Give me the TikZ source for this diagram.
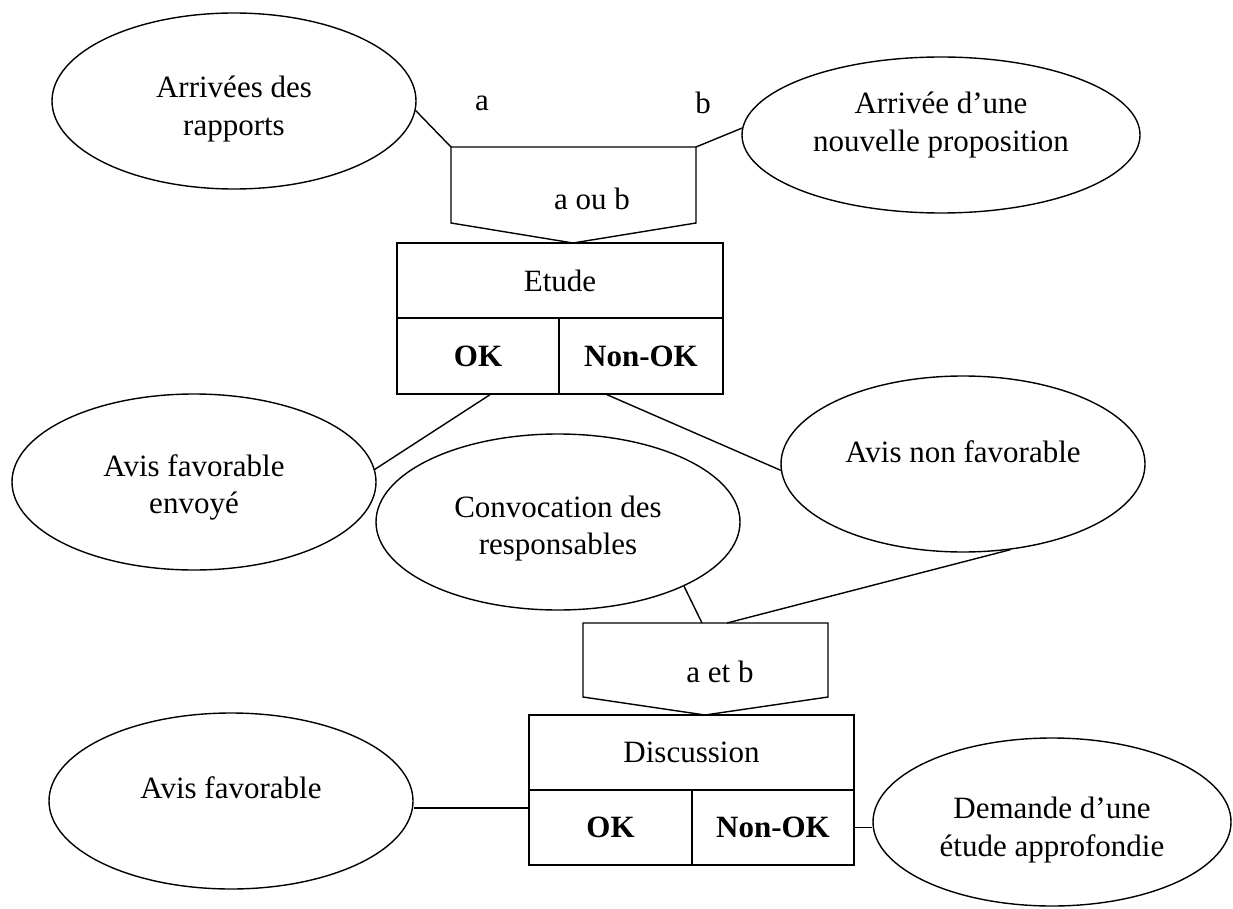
\documentclass[tikz,border=0pt]{standalone}
\usepackage{fontspec}
\setmainfont{Liberation Serif}
\usetikzlibrary{shapes.geometric,calc}
\begin{document}
\begin{tikzpicture}[x=1pt,y=-1pt,
  line width=1.4pt,
  every node/.style={font=\fontsize{31}{37.5}\selectfont},
  ev/.style={ellipse,draw,minimum width=364pt,minimum height=176pt,inner sep=0pt,align=center},
  lift/.style={text depth=#1},
  drop/.style={text height=#1},
  cell/.style={rectangle,draw,inner sep=0pt,minimum height=75pt},
  okcell/.style={cell,font=\fontsize{31}{37}\selectfont\bfseries}]
\useasboundingbox (0,0) rectangle (1233,909);

% events feeding the study
\node[ev,drop=75pt] (e1) at (234,101) {Arrivées des\\rapports};
\node[ev,minimum width=398pt,minimum height=156pt,lift=27pt] (e2) at (941,135) {Arrivée d’une\\nouvelle proposition};
\node (la) at (482,103) {a};
\node (lb) at (703,103) {b};

% synchronisation "a ou b"
\coordinate (p1tl) at (451,147);
\coordinate (p1tr) at (696,147);
\coordinate (p1br) at (696,223);
\coordinate (p1tip) at (573,243);
\coordinate (p1bl) at (451,223);
\draw (p1tl) -- (p1tr) -- (p1br) -- (p1tip) -- (p1bl) -- cycle;
\node (p1txt) at (592,199) {a ou b};

% operation Etude
\node[cell,minimum width=326pt] (etude) at (560,280.5) {Etude};
\node[okcell,minimum width=162pt,minimum height=76pt] (ok1) at (478,356) {OK};
\node[okcell,minimum width=164pt,minimum height=76pt] (nok1) at (641,356) {Non-OK};

% results of the study
\node[ev,drop=70pt] (e3) at (194,482) {Avis favorable\\envoyé};
\node[ev,drop=72pt] (e4) at (558,522) {Convocation des\\responsables};
\node[ev,lift=24pt] (e5) at (963,464) {Avis non favorable};

% synchronisation "a et b"
\coordinate (p2tl) at (583,623);
\coordinate (p2tr) at (828,623);
\coordinate (p2br) at (828,697);
\coordinate (p2tip) at (705,715);
\coordinate (p2bl) at (583,697);
\coordinate (p2in1) at (702,623);
\coordinate (p2in2) at (727,623);
\draw (p2tl) -- (p2tr) -- (p2br) -- (p2tip) -- (p2bl) -- cycle;
\node (p2txt) at (720,672) {a et b};

% operation Discussion
\node[cell,minimum width=325pt] (disc) at (691.5,752.5) {Discussion};
\node[okcell,minimum width=163pt] (ok2) at (610.5,827.5) {OK};
\node[okcell,minimum width=162pt] (nok2) at (773,827.5) {Non-OK};

% results of the discussion
\node[ev,lift=26pt] (e6) at (231,801) {Avis favorable};
\node[ev,minimum width=358pt,minimum height=168pt,drop=75pt] (e7) at (1052,822) {Demande d’une\\étude approfondie};

% connectors
\draw (e1.-3) -- (p1tl);
\draw (e2.178) -- (p1tr);
\draw ($(ok1.south)+(12,0)$) -- (e3.4);
\draw ($(nok1.south)+(-34,0)$) -- (e5.182);
\draw (e4.-27.5) -- (p2in1);
\draw (e5.-61) -- (p2in2);
\coordinate (d1) at (529,808);
\draw (d1) -- (d1 -| e6.east);
\draw (nok2.east) -- (nok2.east -| e7.west);
\end{tikzpicture}
\end{document}
